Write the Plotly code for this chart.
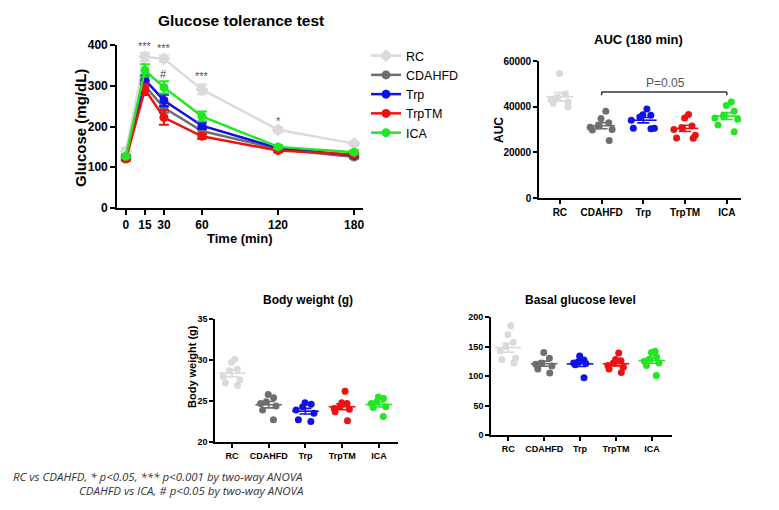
import numpy as np
import plotly.graph_objects as go

W, H = 779, 510

# ---------------- data ----------------
groups = ["RC", "CDAHFD", "Trp", "TrpTM", "ICA"]
colors = {"RC": "#dadada", "CDAHFD": "#6e6e6e", "Trp": "#1010e8",
          "TrpTM": "#ee1111", "ICA": "#22e622"}
symbols = {"RC": "diamond", "CDAHFD": "circle", "Trp": "circle",
           "TrpTM": "circle", "ICA": "circle"}

time_min = [0, 15, 30, 60, 120, 180]
gtt_mean = {
    "RC":     [140, 371, 366, 291, 192, 158],
    "CDAHFD": [122, 300, 246, 189, 145, 125],
    "Trp":    [125, 315, 264, 202, 147, 129],
    "TrpTM":  [120, 291, 222, 176, 141, 131],
    "ICA":    [127, 338, 296, 225, 150, 137],
}
gtt_sem = {
    "RC":     [8, 10, 8, 12, 7, 5],
    "CDAHFD": [4, 12, 12, 8, 4, 4],
    "Trp":    [4, 10, 14, 8, 4, 4],
    "TrpTM":  [4, 14, 18, 6, 4, 4],
    "ICA":    [4, 15, 15, 12, 4, 4],
}
sig_x = [15, 30, 60, 120]
sig_text = ["***", "***", "***", "*"]
sig_y = [397, 392, 324, 213]
hash_x = [30]
hash_y = [329]

auc = {
    "RC":     [54500, 45500, 44000, 43000, 42000, 41500, 40000],
    "CDAHFD": [38000, 34800, 33000, 31500, 31000, 30000, 29800, 25200],
    "Trp":    [39000, 36500, 36200, 35500, 34000, 30500, 30300, 30600],
    "TrpTM":  [36600, 35000, 31500, 30800, 30000, 27500, 26300, 26200],
    "ICA":    [42000, 40500, 38000, 36000, 35000, 34500, 32000, 29000],
}
body_weight = {
    "RC":     [30.1, 29.7, 28.9, 28.7, 28.0, 27.6, 26.9, 27.2],
    "CDAHFD": [25.8, 25.4, 24.9, 24.7, 24.4, 23.9, 22.7],
    "Trp":    [24.8, 24.6, 24.3, 23.9, 23.5, 22.7, 22.5],
    "TrpTM":  [26.2, 24.8, 24.7, 24.3, 24.1, 23.7, 22.6, 24.0],
    "ICA":    [25.5, 25.3, 24.9, 24.7, 24.3, 24.2, 23.1],
}
basal = {
    "RC":     [185, 170, 157, 150, 143, 130, 122, 128],
    "CDAHFD": [140, 130, 122, 120, 117, 112, 105],
    "Trp":    [134, 127, 124, 122, 121, 119, 97],
    "TrpTM":  [139, 128, 126, 122, 118, 112, 106, 115],
    "ICA":    [142, 140, 132, 129, 125, 122, 118, 101],
}

FONT = "Liberation Sans, Arial, sans-serif"

def px_x(p):
    return p / W

def px_y(p):
    return 1 - p / H

fig = go.Figure()

# ---------------- GTT ----------------
for g in groups:
    fig.add_trace(go.Scatter(
        x=time_min, y=gtt_mean[g], name=g, mode="lines+markers",
        xaxis="x", yaxis="y",
        line=dict(color=colors[g], width=2.5),
        marker=dict(color=colors[g], size=9 if g != "RC" else 10, symbol=symbols[g]),
        error_y=dict(type="data", array=gtt_sem[g], color=colors[g], thickness=2, width=5),
        cliponaxis=False, hoverinfo="skip"))

# ---------------- dot plots ----------------
def dot_panel(data, xa, ya, bw):
    for g in groups:
        vals = data[g]
        fig.add_trace(go.Box(
            x=[g] * len(vals), y=vals, xaxis=xa, yaxis=ya,
            boxpoints="all", jitter=1.0, pointpos=0, width=bw,
            fillcolor="rgba(0,0,0,0)", line=dict(width=0, color="rgba(0,0,0,0)"),
            marker=dict(color=colors[g], size=7, opacity=1),
            showlegend=False, hoverinfo="skip"))
        m = float(np.mean(vals))
        s = float(np.std(vals, ddof=1) / np.sqrt(len(vals)))
        fig.add_trace(go.Scatter(
            x=[g], y=[m], xaxis=xa, yaxis=ya, mode="markers",
            marker=dict(symbol="line-ew", size=19, color=colors[g],
                        line=dict(width=1.6, color=colors[g])),
            error_y=dict(type="data", array=[s], color=colors[g], thickness=1.6, width=6),
            showlegend=False, hoverinfo="skip"))

dot_panel(auc, "x2", "y2", 0.75)
dot_panel(body_weight, "x3", "y3", 0.6)
dot_panel(basal, "x4", "y4", 0.6)

# ---------------- axes ----------------
axcommon = dict(showline=True, linecolor="black", linewidth=1.6, ticks="outside",
                tickcolor="black", tickwidth=1.5, showgrid=False, zeroline=False,
                mirror=False, automargin=False)

fig.update_layout(
    template="none",
    width=W, height=H, autosize=False,
    margin=dict(l=0, r=0, t=0, b=0, pad=0),
    paper_bgcolor="white", plot_bgcolor="white",
    boxmode="overlay",
    xaxis=dict(domain=[px_x(117), px_x(363)], range=[-7, 187], anchor="y",
               tickvals=time_min, ticklen=5,
               tickfont=dict(family=FONT, size=12, color="black", weight="bold"),
               **axcommon),
    yaxis=dict(domain=[px_y(208), px_y(45)], range=[0, 400], anchor="x",
               tickvals=[0, 100, 200, 300, 400], ticklen=5,
               tickfont=dict(family=FONT, size=12, color="black", weight="bold"),
               **axcommon),
    xaxis2=dict(domain=[px_x(539), px_x(741)], range=[-0.5, 4.34], anchor="y2",
                type="category", categoryorder="array", categoryarray=groups, ticklen=4,
                tickfont=dict(family=FONT, size=10, color="black", weight="bold"),
                **axcommon),
    yaxis2=dict(domain=[px_y(198), px_y(61)], range=[0, 60000], anchor="x2",
                tickvals=[0, 20000, 40000, 60000], tickformat="d", ticklen=4,
                tickfont=dict(family=FONT, size=10, color="black", weight="bold"),
                **axcommon),
    xaxis3=dict(domain=[px_x(215), px_x(398)], range=[-0.46, 4.52], anchor="y3",
                type="category", categoryorder="array", categoryarray=groups, ticklen=4,
                tickfont=dict(family=FONT, size=9, color="black", weight="bold"),
                **axcommon),
    yaxis3=dict(domain=[px_y(442), px_y(319)], range=[20, 35], anchor="x3",
                tickvals=[20, 25, 30, 35], ticklen=4,
                tickfont=dict(family=FONT, size=9, color="black", weight="bold"),
                **axcommon),
    xaxis4=dict(domain=[px_x(491), px_x(672)], range=[-0.48, 4.56], anchor="y4",
                type="category", categoryorder="array", categoryarray=groups, ticklen=4,
                tickfont=dict(family=FONT, size=9, color="black", weight="bold"),
                **axcommon),
    yaxis4=dict(domain=[px_y(435), px_y(317)], range=[0, 200], anchor="x4",
                tickvals=[0, 50, 100, 150, 200], ticklen=4,
                tickfont=dict(family=FONT, size=9, color="black", weight="bold"),
                **axcommon),
    legend=dict(x=px_x(366), y=px_y(41), xanchor="left", yanchor="top",
                font=dict(family=FONT, size=12.5, color="black"),
                bgcolor="rgba(0,0,0,0)", tracegroupgap=0, itemsizing="trace"),
    showlegend=True,
)

# ---------------- bracket on AUC ----------------
br_y, br_low = 46400, 45000
for (x0, y0, x1, y1) in [("CDAHFD", br_y, "ICA", br_y), ("CDAHFD", br_low, "CDAHFD", br_y),
                         ("ICA", br_low, "ICA", br_y)]:
    fig.add_shape(type="line", xref="x2", yref="y2", x0=x0, y0=y0, x1=x1, y1=y1,
                  line=dict(color="#333333", width=1.5))

ann = []
def A(text, x, y, size, bold=True, angle=0, color="black", xanchor="center", italic=False,
      family=FONT):
    t = text
    if bold:
        t = "<b>" + t + "</b>"
    if italic:
        t = "<i>" + t + "</i>"
    ann.append(dict(text=t, x=x, y=y, xref="paper", yref="paper", showarrow=False,
                    textangle=angle, xanchor=xanchor, yanchor="middle",
                    font=dict(family=family, size=size, color=color)))

A("Glucose tolerance test", px_x(241), px_y(21), 15.5)
A("Glucose (mg/dL)", px_x(80), px_y(128), 15, angle=-90)
A("Time (min)", px_x(240), px_y(238), 13)
A("AUC (180 min)", px_x(638), px_y(40), 13)
A("AUC", px_x(499), px_y(130), 12, angle=-90)
A("Body weight (g)", px_x(308), px_y(300), 12)
A("Body weight (g)", px_x(192), px_y(367), 11, angle=-90)
A("Basal glucose level", px_x(580), px_y(300), 12)
A("RC vs CDAHFD, * p<0.05, *** p<0.001 by two-way ANOVA", px_x(305), px_y(476), 11.5,
  bold=False, italic=True, color="#333333", xanchor="right", family="Open Sans, sans-serif")
A("CDAHFD vs ICA, # p<0.05 by two-way ANOVA", px_x(305), px_y(490), 11.5,
  bold=False, italic=True, color="#333333", xanchor="right", family="Open Sans, sans-serif")

for sx, sy, st in zip(sig_x, sig_y, sig_text):
    ann.append(dict(text=st, x=sx, y=sy, xref="x", yref="y", showarrow=False,
                    xanchor="center", yanchor="middle",
                    font=dict(family=FONT, size=11, color="#555555")))
for hx, hy in zip(hash_x, hash_y):
    ann.append(dict(text="#", x=hx, y=hy, xref="x", yref="y", showarrow=False,
                    xanchor="center", yanchor="middle",
                    font=dict(family=FONT, size=11, color="#444444")))

ann.append(dict(text="P=0.05", x="TrpTM", y=50300, xref="x2", yref="y2", showarrow=False,
                xanchor="center", yanchor="middle", xshift=-20,
                font=dict(family=FONT, size=12, color="#555555")))
fig.update_layout(annotations=ann)

fig.write_html("out.html", config={"displayModeBar": False},
               post_script="document.body.style.margin='0';")
